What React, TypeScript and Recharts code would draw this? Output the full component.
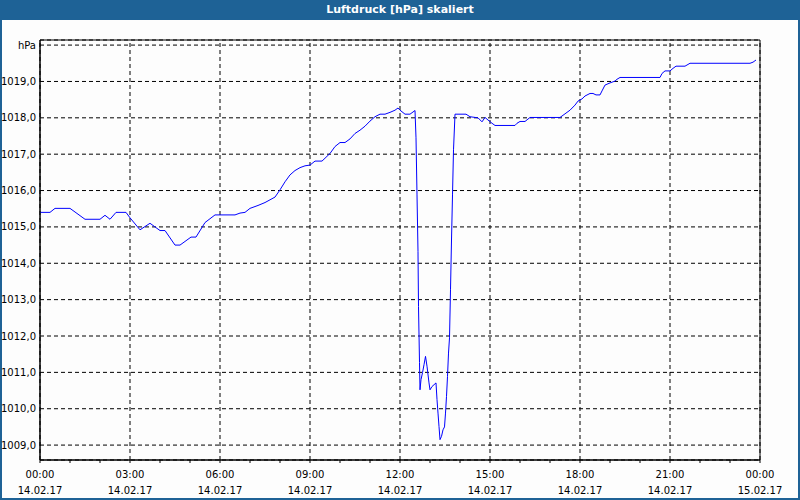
import React from "react";
import {
  CartesianGrid,
  Line,
  LineChart,
  ReferenceArea,
  ReferenceLine,
  XAxis,
  YAxis,
} from "recharts";

// minutes since 14.02.17 00:00
const minutes = [
  0, 20, 30, 60, 90, 120, 130, 140, 152, 172, 180, 200, 220, 240, 250, 270, 280, 302, 312, 330,
  350, 390, 400, 410, 420, 436, 450, 470, 480, 490, 500, 510, 520, 530, 540, 550, 564, 580, 590,
  600, 610, 620, 630, 640, 650, 660, 670, 680, 690, 700, 710, 716, 720, 730, 740, 750, 752, 754,
  756, 757, 759, 760, 762, 765, 768, 771, 774, 778, 780, 784, 788, 792, 794, 796, 798, 800, 803,
  806, 809, 811, 813, 815, 817, 819, 821, 823, 825, 827, 830, 852, 860, 876, 884, 890, 896, 904,
  910, 950, 954, 960, 970, 980, 1040, 1044, 1054, 1060, 1070, 1076, 1084, 1090, 1100, 1106, 1112,
  1120, 1124, 1130, 1140, 1150, 1154, 1160, 1240, 1244, 1250, 1260, 1266, 1272, 1290, 1300, 1420,
  1426, 1432,
];

const pressure = [
  1015.4, 1015.4, 1015.51, 1015.51, 1015.21, 1015.21, 1015.32, 1015.21, 1015.4, 1015.4, 1015.25,
  1014.92, 1015.1, 1014.9, 1014.9, 1014.5, 1014.5, 1014.72, 1014.72, 1015.12, 1015.33, 1015.33,
  1015.38, 1015.4, 1015.51, 1015.59, 1015.67, 1015.82, 1016.02, 1016.24, 1016.43, 1016.55,
  1016.63, 1016.68, 1016.7, 1016.81, 1016.81, 1017.02, 1017.21, 1017.32, 1017.32, 1017.42,
  1017.57, 1017.66, 1017.77, 1017.91, 1018.03, 1018.1, 1018.1, 1018.15, 1018.21, 1018.27,
  1018.21, 1018.1, 1018.1, 1018.2, 1017.45, 1015.88, 1014.32, 1012.81, 1011.27, 1010.52, 1010.8,
  1010.99, 1011.21, 1011.44, 1011.17, 1010.71, 1010.52, 1010.61, 1010.66, 1010.71, 1010.25,
  1009.88, 1009.51, 1009.15, 1009.24, 1009.42, 1009.5, 1009.88, 1010.34, 1010.89, 1011.53,
  1011.95, 1013.27, 1014.64, 1015.88, 1017.12, 1018.1, 1018.1, 1018.03, 1018.0, 1017.89, 1018.01,
  1017.94, 1017.85, 1017.79, 1017.79, 1017.85, 1017.9, 1017.9, 1018.01, 1018.01, 1018.05,
  1018.15, 1018.21, 1018.35, 1018.46, 1018.52, 1018.6, 1018.67, 1018.67, 1018.63, 1018.63,
  1018.74, 1018.9, 1018.96, 1019.01, 1019.06, 1019.11, 1019.11, 1019.22, 1019.29, 1019.29,
  1019.36, 1019.42, 1019.42, 1019.5, 1019.5, 1019.53, 1019.59,
];

const hourTicks = Array.from({ length: 25 }, (_, i) => i * 60);
const majorTicks = [0, 180, 360, 540, 720, 900, 1080, 1260, 1440];
const timeLabels = ["00:00", "03:00", "06:00", "09:00", "12:00", "15:00", "18:00", "21:00", "00:00"];
const dateLabels = [
  "14.02.17", "14.02.17", "14.02.17", "14.02.17", "14.02.17",
  "14.02.17", "14.02.17", "14.02.17", "15.02.17",
];
const yTicks = [1009, 1010, 1011, 1012, 1013, 1014, 1015, 1016, 1017, 1018, 1019, 1020];
const yDomain: [number, number] = [1008.59, 1020.14];

const data = minutes.map((t, i) => ({ t, p: pressure[i] }));

const FONT = "'DejaVu Sans', Verdana, sans-serif";
const BLUE = "#1e6296";

function TimeTick(props: any) {
  const { x, y, payload } = props;
  const idx = majorTicks.indexOf(payload.value);
  if (idx < 0) return <g />;
  return (
    <g>
      <text x={x} y={y + 13} textAnchor="middle" fontSize={10} fontFamily={FONT} fill="#000">
        {timeLabels[idx]}
      </text>
      <text x={x} y={y + 29} textAnchor="middle" fontSize={10} fontFamily={FONT} fill="#000">
        {dateLabels[idx]}
      </text>
    </g>
  );
}

const fmtY = (v: number) => (v === 1020 ? "hPa" : v.toFixed(1).replace(".", ","));

export default function App() {
  return (
    <div
      style={{
        position: "absolute",
        left: 0,
        top: 0,
        width: 800,
        height: 500,
        background: "#fdfdfd",
        boxShadow: `inset 0 0 0 2px ${BLUE}`,
        fontFamily: FONT,
      }}
    >
      <div
        style={{
          position: "absolute",
          left: 0,
          top: 0,
          width: 800,
          height: 20,
          background: BLUE,
          color: "#fff",
          fontWeight: "bold",
          fontSize: 11,
          lineHeight: "20px",
          textAlign: "center",
        }}
      >
        Luftdruck [hPa] skaliert
      </div>
      <div style={{ position: "absolute", left: 0, top: 0 }}>
        <LineChart
          width={800}
          height={500}
          data={data}
          margin={{ top: 40, right: 40, bottom: 0, left: 0 }}
        >
          <CartesianGrid vertical={false} stroke="#000" strokeDasharray="4 3" />
          {majorTicks.map((t) => (
            <ReferenceLine key={t} x={t} stroke="#000" strokeDasharray="4 3" />
          ))}
          <XAxis
            dataKey="t"
            type="number"
            domain={[0, 1440]}
            ticks={hourTicks}
            interval={0}
            height={40}
            tickSize={3}
            tickMargin={2}
            stroke="#000"
            tick={<TimeTick />}
          />
          <YAxis
            type="number"
            domain={yDomain}
            ticks={yTicks}
            interval={0}
            width={40}
            tickLine={false}
            tickSize={0}
            tickMargin={4}
            stroke="#000"
            tickFormatter={fmtY}
            tick={{ fontSize: 10, fontFamily: FONT, fill: "#000" }}
          />
          <ReferenceArea
            x1={0}
            x2={1440}
            y1={yDomain[0]}
            y2={yDomain[1]}
            fill="none"
            stroke="#000"
          />
          <Line
            type="linear"
            dataKey="p"
            stroke="#0000ff"
            strokeWidth={1}
            dot={false}
            isAnimationActive={false}
          />
        </LineChart>
      </div>
    </div>
  );
}
